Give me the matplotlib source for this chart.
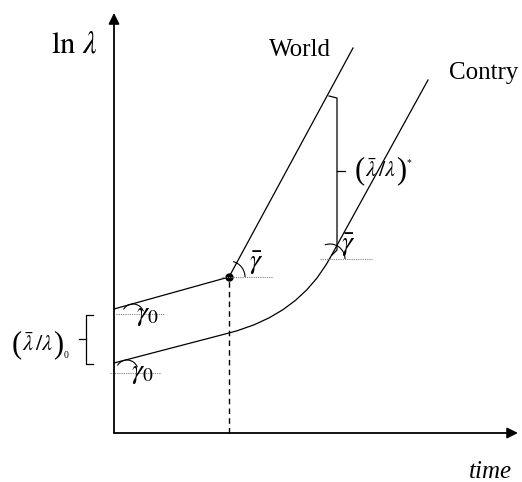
import matplotlib.pyplot as plt
from matplotlib.patches import Arc, PathPatch
from matplotlib.path import Path

plt.rcParams['font.family'] = ['Liberation Serif', 'DejaVu Serif']
plt.rcParams['mathtext.fontset'] = 'stix'

# world frontier: slow growth gamma_0, then faster growth gamma_bar after the switch
world_t = [0, 115, 239]
world_ln = [124, 156, 385]

# country: same slow growth, then catch-up curve bending into gamma_bar
country_t = [0, 115]
country_ln = [70, 100]
curve_ctrl = (185, 118)
curve_join = (216, 175)
country_end = (314, 353)

switch_t, switch_ln = 115, 156

fig = plt.figure(figsize=(5.22, 4.82), dpi=100)
ax = fig.add_axes([0, 0, 1, 1])
ax.set_xlim(-114, 408)
ax.set_ylim(-49, 433)
ax.axis('off')


def ratio_label(x, y, index, raise_index):
    # (lambda_bar / lambda) with tall parentheses and a small index
    left = ax.text(x, y, '(', fontsize=22, va='center', ha='left',
                   fontweight='light')
    body = ax.annotate(r'$\bar{\lambda}\,/\lambda$', xy=(1, 0.5), xycoords=left,
                       fontsize=16, va='center', ha='left')
    right = ax.annotate(')', xy=(1, 0.5), xycoords=body, fontsize=22,
                        va='center', ha='left')
    ax.annotate(index, xy=(1, 0.78 if raise_index else 0.15), xycoords=right,
                fontsize=7, va='center', ha='left')


# axes with arrowheads
arrow = dict(arrowstyle='-|>', color='black', lw=1.3, mutation_scale=16,
             shrinkA=0, shrinkB=0)
ax.annotate('', xy=(0, 420), xytext=(0, 0), arrowprops=arrow)
ax.annotate('', xy=(404, 0), xytext=(0, 0), arrowprops=arrow)

# world path
ax.plot(world_t, world_ln, color='black', lw=0.9)
ax.plot(switch_t, switch_ln, 'o', color='black', ms=5)
ax.plot([switch_t, switch_t], [0, switch_ln], color='black', lw=1.0,
        ls=(0, (4, 3)))

# country path
ax.plot(country_t, country_ln, color='black', lw=0.9)
verts = [(country_t[-1], country_ln[-1]), curve_ctrl, curve_join]
ax.add_patch(PathPatch(Path(verts, [Path.MOVETO, Path.CURVE3, Path.CURVE3]),
                       fc='none', ec='black', lw=0.9))
ax.plot([curve_join[0], country_end[0]], [curve_join[1], country_end[1]],
        color='black', lw=0.9)

# dotted horizontal references for the slope angles
dot = dict(color='gray', lw=0.8, ls=(0, (1, 1)))
ax.plot([2, 51], [119, 119], **dot)
ax.plot([-4, 46], [60, 60], **dot)
ax.plot([108, 158], [156, 156], **dot)
ax.plot([206, 258], [174, 174], **dot)

# angle arcs
arc = dict(color='black', lw=0.8)
ax.add_patch(Arc((19, 118), 22, 22, theta1=20, theta2=150, **arc))
ax.add_patch(Arc((13, 62), 22, 22, theta1=20, theta2=150, **arc))
ax.add_patch(Arc((switch_t, switch_ln), 32, 32, theta1=0, theta2=75, **arc))
ax.add_patch(Arc((216, 174), 30, 30, theta1=0, theta2=110, **arc))

# gap brackets
ax.plot([215, 223, 223, 218], [337, 335, 183, 178], color='black', lw=0.9)
ax.plot([223, 231], [262, 262], color='black', lw=0.9)
ax.plot([-21, -28, -28, -21], [118, 118, 69, 69], color='black', lw=0.9)
ax.plot([-35, -28], [94, 94], color='black', lw=0.9)

# labels
ax.text(-40, 388, r'$\mathrm{ln}\ \lambda$', fontsize=22, ha='center', va='center')
ax.text(186, 383, 'World', fontsize=18, ha='center', va='center')
ax.text(370, 360, 'Contry', fontsize=18, ha='center', va='center')
ax.text(376, -39, 'time', fontsize=18, style='italic', ha='center', va='center')
ratio_label(241, 262, '*', True)
ratio_label(-102, 88, '0', False)
ax.text(142, 170, r'$\bar{\gamma}$', fontsize=20, ha='center', va='center')
ax.text(234, 188, r'$\bar{\gamma}$', fontsize=20, ha='center', va='center')
ax.text(33, 118, r'$\gamma_{0}$', fontsize=20, ha='center', va='center')
ax.text(28, 59, r'$\gamma_{0}$', fontsize=20, ha='center', va='center')

fig.savefig('out.png', dpi=100)
